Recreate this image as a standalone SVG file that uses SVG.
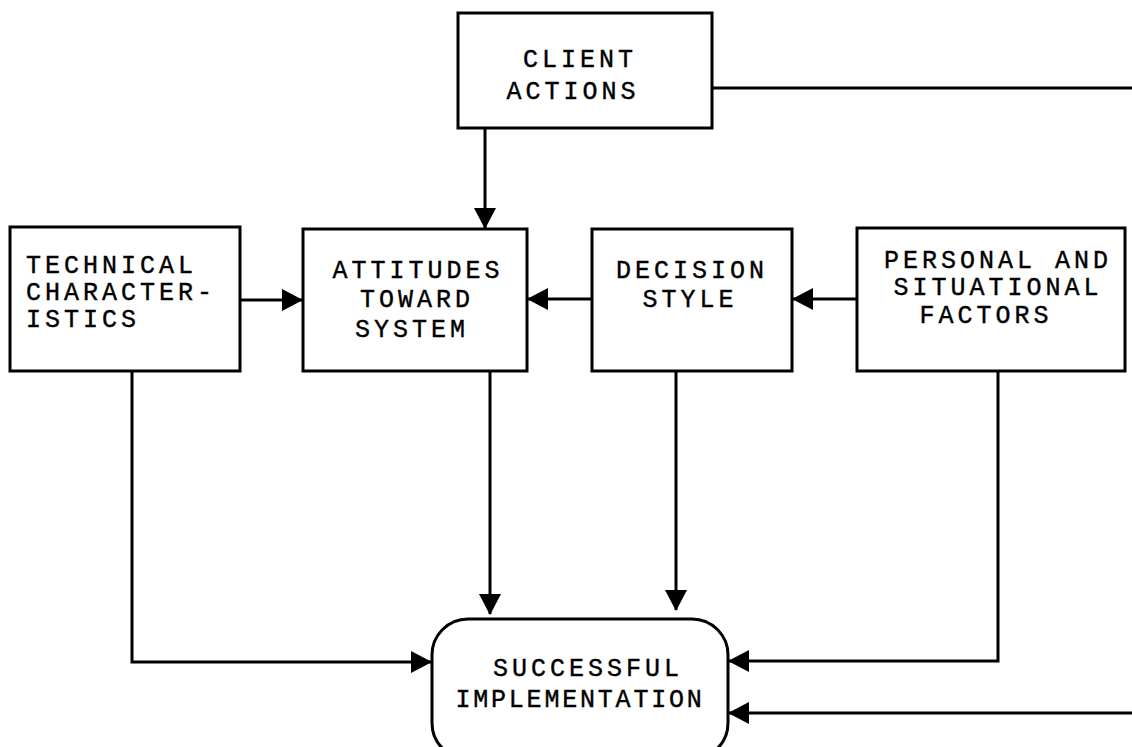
<svg xmlns="http://www.w3.org/2000/svg" width="1132" height="747" viewBox="0 0 1132 747">
<style>
.box{fill:#fff;stroke:#000;stroke-width:3}
.t{font-family:"Liberation Mono","DejaVu Sans Mono",monospace;font-size:25px;letter-spacing:4px;fill:#000;stroke:#000;stroke-width:0.4}
.m{text-anchor:middle}
.c{fill:none;stroke:#000;stroke-width:3}
</style>
<defs>
<marker id="ah" markerUnits="userSpaceOnUse" markerWidth="22" markerHeight="22" refX="20" refY="11" orient="auto" viewBox="0 0 22 22">
<path d="M0,0 L21,11 L0,22 Z" fill="#000"/>
</marker>
</defs>
<rect width="1132" height="747" fill="#fff"/>
<g id="connectors">
<path class="c" d="M712,88 H1132"/>
<path class="c" d="M485,128 V228" marker-end="url(#ah)"/>
<path class="c" d="M240,300 H302" marker-end="url(#ah)"/>
<path class="c" d="M592,299 H528" marker-end="url(#ah)"/>
<path class="c" d="M857,299 H793" marker-end="url(#ah)"/>
<path class="c" d="M132,371 V662 H431" marker-end="url(#ah)"/>
<path class="c" d="M490,371 V614" marker-end="url(#ah)"/>
<path class="c" d="M676,371 V610" marker-end="url(#ah)"/>
<path class="c" d="M998,371 V661 H729" marker-end="url(#ah)"/>
<path class="c" d="M1132,713 H729" marker-end="url(#ah)"/>
</g>
<g id="client">
<rect class="box" x="458" y="13" width="254" height="115"/>
<text class="t m" x="580" y="67">CLIENT</text>
<text class="t m" x="573" y="99">ACTIONS</text>
</g>
<g id="technical">
<rect class="box" x="10" y="227" width="230" height="144"/>
<text class="t" x="26" y="273">TECHNICAL</text>
<text class="t" x="26" y="300">CHARACTER-</text>
<text class="t" x="26" y="327">ISTICS</text>
</g>
<g id="attitudes">
<rect class="box" x="303" y="229" width="224" height="142"/>
<text class="t m" x="418" y="278">ATTITUDES</text>
<text class="t m" x="417" y="307">TOWARD</text>
<text class="t m" x="412" y="337">SYSTEM</text>
</g>
<g id="decision">
<rect class="box" x="592" y="229" width="200" height="142"/>
<text class="t m" x="692" y="278">DECISION</text>
<text class="t m" x="690" y="307">STYLE</text>
</g>
<g id="personal">
<rect class="box" x="857" y="228" width="268" height="143"/>
<text class="t m" x="998" y="268">PERSONAL AND</text>
<text class="t m" x="998" y="295">SITUATIONAL</text>
<text class="t m" x="986" y="323">FACTORS</text>
</g>
<g id="successful">
<rect class="box" x="432" y="619" width="296" height="140" rx="36" ry="36"/>
<text class="t m" x="588" y="676">SUCCESSFUL</text>
<text class="t m" x="580" y="707" style="letter-spacing:2.8px">IMPLEMENTATION</text>
</g>
</svg>
